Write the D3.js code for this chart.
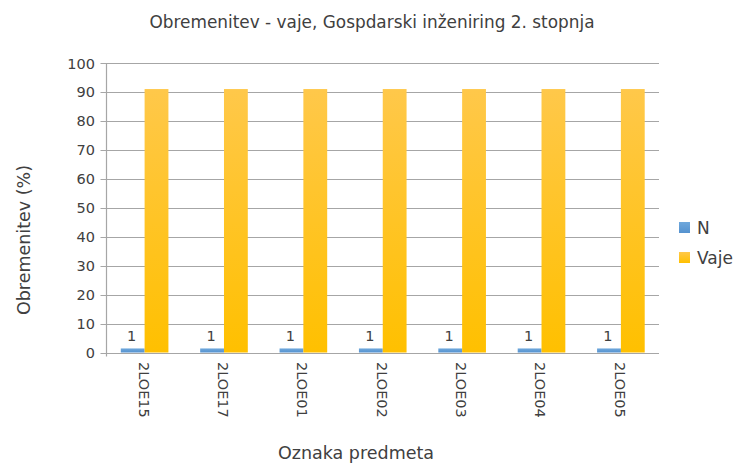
<!DOCTYPE html>
<html>
<head>
<meta charset="utf-8">
<script src="https://cdn.jsdelivr.net/npm/d3@7"></script>
<style>
  body { margin: 0; background: #fff; }
  text { font-family: "DejaVu Sans", sans-serif; fill: #404040; }
</style>
</head>
<body>
<svg id="chart" width="737" height="464"></svg>
<script>
// data
var categories = ["2LOE15", "2LOE17", "2LOE01", "2LOE02", "2LOE03", "2LOE04", "2LOE05"];
var seriesNames = ["N", "Vaje"];
var nValues = [1.4, 1.4, 1.4, 1.4, 1.4, 1.4, 1.4];
var vajeValues = [91, 91, 91, 91, 91, 91, 91];
var yTicks = [0, 10, 20, 30, 40, 50, 60, 70, 80, 90, 100];

var svg = d3.select("#chart");
var pLeft = 106.5, pRight = 659, pTop = 63, pBottom = 352.5;

var x = d3.scaleBand().domain(categories).range([pLeft, pRight]).paddingInner(0.4).paddingOuter(0.18);
var y = d3.scaleLinear().domain([0, 100]).range([pBottom, pTop]);

// gradients
var defs = svg.append("defs");
function grad(id, c1, c2) {
  var g = defs.append("linearGradient").attr("id", id).attr("x1", 0).attr("x2", 0).attr("y1", 0).attr("y2", 1);
  g.append("stop").attr("offset", "0%").attr("stop-color", c1);
  g.append("stop").attr("offset", "100%").attr("stop-color", c2);
}
grad("gN", "#6fa8dc", "#5592cf");
grad("gV", "#ffc84a", "#ffc000");
var fills = ["url(#gN)", "url(#gV)"];

// gridlines + y ticks
svg.append("g").selectAll("line").data(yTicks).join("line")
  .attr("x1", pLeft - 6).attr("x2", pRight)
  .attr("y1", d => Math.round(y(d)) + 0.5).attr("y2", d => Math.round(y(d)) + 0.5)
  .attr("stroke", "#a6a6a6").attr("stroke-width", 1.2);

svg.append("line").attr("x1", pLeft).attr("x2", pLeft).attr("y1", pTop).attr("y2", pBottom + 4)
  .attr("stroke", "#a6a6a6").attr("stroke-width", 1.2);

svg.append("g").selectAll("text").data(yTicks).join("text")
  .attr("x", 95).attr("y", d => y(d) + 5.5)
  .attr("text-anchor", "end").style("font-size", "14.5px")
  .text(d => d);

// bars
var sub = d3.scaleBand().domain(seriesNames).range([0, x.bandwidth()]);
var rows = categories.map((c, i) => ({ cat: c, vals: [nValues[i], vajeValues[i]] }));

var grp = svg.append("g").selectAll("g").data(rows).join("g")
  .attr("transform", d => "translate(" + x(d.cat) + ",0)");

grp.selectAll("rect").data(d => d.vals.map((v, j) => ({ s: seriesNames[j], v: v, j: j }))).join("rect")
  .attr("x", d => sub(d.s)).attr("width", sub.bandwidth())
  .attr("y", d => y(d.v)).attr("height", d => y(0) - y(d.v))
  .attr("fill", d => fills[d.j]);

// data labels on N
grp.append("text")
  .attr("x", d => sub("N") + sub.bandwidth() / 2 - 1)
  .attr("y", d => y(d.vals[0]) - 7)
  .attr("text-anchor", "middle").style("font-size", "14.5px")
  .text(d => d3.format(".0f")(d.vals[0]));

// x tick labels, rotated
svg.append("g").selectAll("text").data(categories).join("text")
  .attr("transform", d => "translate(" + (x(d) + x.bandwidth() / 2 - 1) + "," + 362 + ") rotate(90)")
  .attr("dy", "0.35em").style("font-size", "14.5px")
  .text(d => d);

// titles
svg.append("text").attr("x", 372).attr("y", 28).attr("text-anchor", "middle")
  .style("font-size", "16.9px").text("Obremenitev - vaje, Gospdarski inženiring 2. stopnja");

svg.append("text").attr("x", 356).attr("y", 459).attr("text-anchor", "middle")
  .style("font-size", "17.5px").text("Oznaka predmeta");

svg.append("text").attr("transform", "translate(30,240) rotate(-90)").attr("text-anchor", "middle")
  .style("font-size", "17.5px").text("Obremenitev (%)");

// legend
var leg = svg.append("g").selectAll("g").data(seriesNames).join("g")
  .attr("transform", (d, i) => "translate(679," + (222 + i * 30) + ")");
leg.append("rect").attr("width", 11).attr("height", 11).attr("fill", (d, i) => fills[i]);
leg.append("text").attr("x", 18).attr("y", 12).style("font-size", "17px").text(d => d);
</script>
</body>
</html>
